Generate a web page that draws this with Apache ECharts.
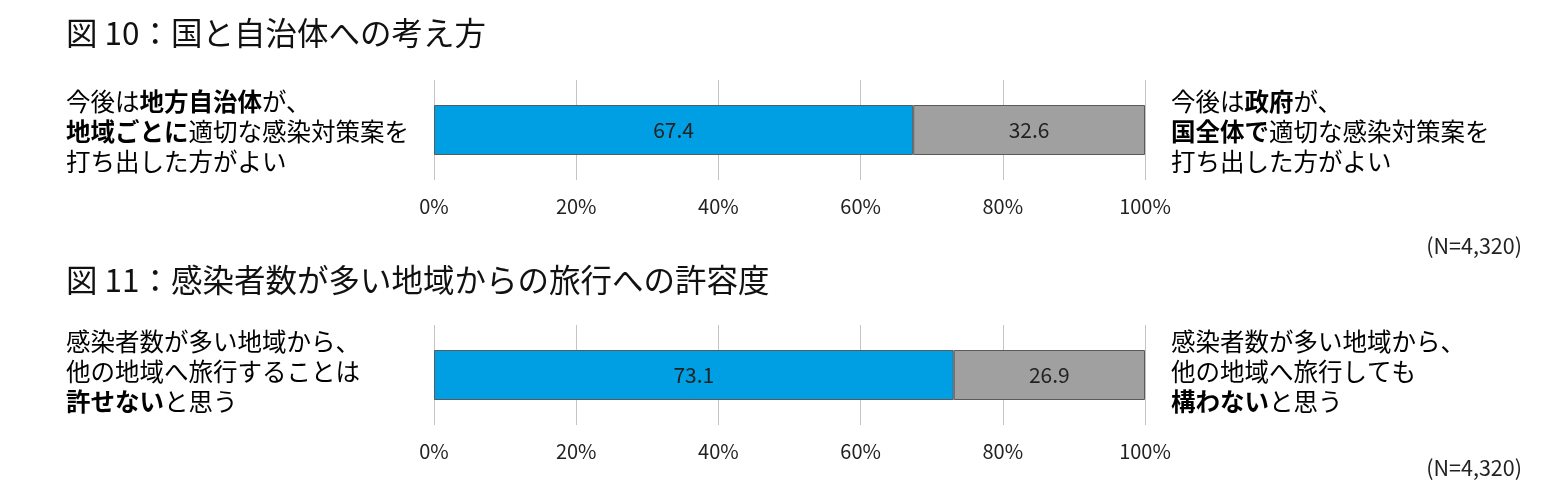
<!DOCTYPE html>
<html>
<head>
    <meta charset="utf-8"/>
    <title>国と自治体への考え方</title>
    <style>
        html, body { margin: 0; padding: 0; background: #fff; }
    </style>
</head>
<body>
<div id="main" style="width: 1559px;height:495px;"></div>
<script src="https://cdn.jsdelivr.net/npm/echarts@6/dist/echarts.min.js"></script>
<script>
    // データ
    var titles = ['図 10：国と自治体への考え方', '図 11：感染者数が多い地域からの旅行への許容度'];
    var leftLabels = [
        ['今後は**地方自治体**が、', '**地域ごとに**適切な感染対策案を', '打ち出した方がよい'],
        ['感染者数が多い地域から、', '他の地域へ旅行することは', '**許せない**と思う']
    ];
    var rightLabels = [
        ['今後は**政府**が、', '**国全体で**適切な感染対策案を', '打ち出した方がよい'],
        ['感染者数が多い地域から、', '他の地域へ旅行しても', '**構わない**と思う']
    ];
    var valuesLeft = [67.4, 73.1];
    var valuesRight = [32.6, 26.9];
    var sampleNote = '(N=4,320)';
    var tickLabels = ['0%', '20%', '40%', '60%', '80%', '100%'];

    var JP = '"Noto Sans CJK JP", sans-serif';
    var NUM = '"Noto Sans CJK JP", sans-serif';

    // **太字** を rich テキストに変換
    function toRich(lines) {
        return lines.map(function (line) {
            return line.split('**').map(function (part, i) {
                if (!part) return '';
                return '{' + (i % 2 ? 'b' : 'n') + '|' + part + '}';
            }).join('');
        }).join('\n');
    }
    var richStyle = {
        n: {fontSize: 24.5, fontFamily: JP, color: '#111', lineHeight: 30},
        b: {fontSize: 24.5, fontFamily: JP, color: '#111', fontWeight: 'bold', lineHeight: 30}
    };

    var gridTops = [80, 325];
    var grids = [], xAxes = [], yAxes = [], series = [], graphics = [];

    gridTops.forEach(function (top, i) {
        grids.push({left: 434, width: 711, top: top, height: 100});
        xAxes.push({
            type: 'value', gridIndex: i, min: 0, max: 100, interval: 20,
            axisLine: {show: false}, axisTick: {show: false},
            splitLine: {lineStyle: {color: '#c4c4c4', width: 1}},
            axisLabel: {
                margin: 16, fontSize: 20, fontFamily: NUM, color: '#222',
                formatter: function (v) { return tickLabels[v / 20]; }
            }
        });
        yAxes.push({
            type: 'category', gridIndex: i, data: [''],
            axisLine: {show: false}, axisTick: {show: false}, axisLabel: {show: false}
        });
        [[valuesLeft[i], '#009fe3'], [valuesRight[i], '#a0a0a0']].forEach(function (s) {
            series.push({
                type: 'bar', xAxisIndex: i, yAxisIndex: i, stack: 'g' + i,
                barWidth: 50, data: [s[0]],
                itemStyle: {color: s[1], borderColor: '#5a5a5a', borderWidth: 1},
                label: {
                    show: true, position: 'inside', fontSize: 21, fontFamily: NUM, color: '#222',
                    formatter: function (p) { return p.value.toFixed(1); }
                }
            });
        });

        graphics.push({
            type: 'text', left: 66, top: [17, 264][i],
            style: {text: titles[i], fontSize: 31.5, fontFamily: JP, fill: '#111'}
        });
        graphics.push({
            type: 'text', left: 66, top: [89, 329][i],
            style: {text: toRich(leftLabels[i]), rich: richStyle}
        });
        graphics.push({
            type: 'text', left: 1171, top: [89, 329][i],
            style: {text: toRich(rightLabels[i]), rich: richStyle}
        });
        graphics.push({
            type: 'text', right: 37, top: [235, 457][i],
            style: {text: sampleNote, fontSize: 21.5, fontFamily: JP, fill: '#222'}
        });
    });

    var myChart = echarts.init(document.getElementById('main'));
    myChart.setOption({
        animation: false,
        grid: grids,
        xAxis: xAxes,
        yAxis: yAxes,
        series: series,
        graphic: graphics
    });
</script>
</body>
</html>
